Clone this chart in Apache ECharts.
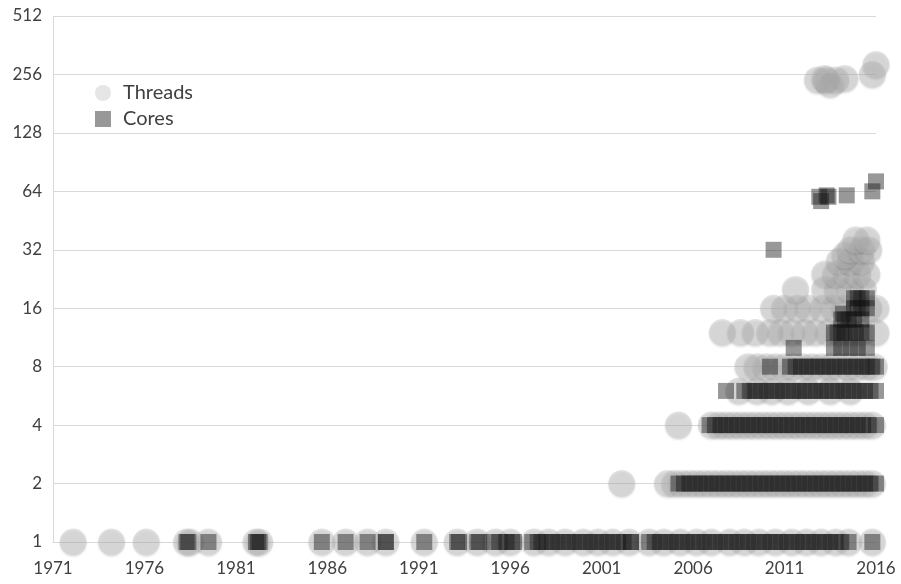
<!DOCTYPE html>
<html>
<head>
<meta charset="utf-8">
<script src="https://cdn.jsdelivr.net/npm/echarts@6/dist/echarts.min.js"></script>
<style>
html,body{margin:0;padding:0;background:#fff;}
#chart{width:901px;height:584px;}
</style>
</head>
<body>
<div id="chart"></div>
<script>
// Axis settings
const firstYear = 1971;
const xTickStep = 5;
const yTicks = [1, 2, 4, 8, 16, 32, 64, 128, 256, 512];
const seriesNames = ['Threads', 'Cores'];

// [year, threads]
const threadsData = [
  [1972.1,1],[1974.2,1],[1976.1,1],[1978.3,1],[1978.5,1],[1979.5,1],[1982.1,1],[1982.3,1],
  [1985.7,1],[1987.0,1],[1988.2,1],[1989.2,1],[1991.3,1],[1993.1,1],[1994.2,1],[1995.2,1],
  [1996.0,1],[1997.3,1],[1998.1,1],[1999.0,1],[2000.0,1],[2000.8,1],[2001.6,1],[2002.5,1],
  [2003.6,1],[2004.4,1],[2005.3,1],[2006.2,1],[2007.0,1],[2008.0,1],[2008.8,1],[2009.6,1],
  [2010.5,1],[2011.4,1],[2012.2,1],[2013.0,1],[2013.8,1],[2014.5,1],[2015.8,1],
  [2002.1,2],[2004.6,2],[2005.0,2],[2005.4,2],[2005.8,2],[2006.2,2],[2006.6,2],[2007.0,2],
  [2007.4,2],[2007.8,2],[2008.2,2],[2008.6,2],[2009.0,2],[2009.4,2],[2009.8,2],[2010.2,2],
  [2010.6,2],[2011.0,2],[2011.4,2],[2011.8,2],[2012.2,2],[2012.6,2],[2013.0,2],[2013.4,2],
  [2013.8,2],[2014.2,2],[2014.6,2],[2015.0,2],[2015.4,2],[2015.8,2],
  [2005.2,4],[2007.0,4],[2007.4,4],[2007.8,4],[2008.2,4],[2008.6,4],[2009.0,4],[2009.4,4],
  [2009.8,4],[2010.2,4],[2010.6,4],[2011.0,4],[2011.4,4],[2011.8,4],[2012.2,4],[2012.6,4],
  [2013.0,4],[2013.4,4],[2013.8,4],[2014.2,4],[2014.6,4],[2015.0,4],[2015.4,4],[2015.8,4],
  [2008.5,6],[2009.5,6],[2010.3,6],[2011.2,6],[2012.3,6],[2013.5,6],[2014.6,6],
  [2009.0,8],[2009.5,8],[2010.0,8],[2010.5,8],[2011.0,8],[2011.5,8],[2012.0,8],[2012.5,8],
  [2013.0,8],[2013.5,8],[2014.0,8],[2014.5,8],[2015.0,8],[2015.5,8],[2015.9,8],
  [2007.6,12],[2008.6,12],[2009.4,12],[2010.2,12],[2010.8,12],[2011.4,12],[2012.1,12],
  [2012.7,12],[2013.4,12],[2014.0,12],[2014.6,12],[2015.2,12],[2016.0,12],
  [2010.4,16],[2011.0,16],[2011.7,16],[2012.3,16],[2013.1,16],[2013.7,16],[2014.3,16],
  [2015.0,16],[2015.6,16],[2016.0,16],
  [2011.6,20],[2013.2,20],[2013.9,20],[2014.6,20],[2015.3,20],
  [2013.2,24],[2013.8,24],[2014.4,24],[2015.0,24],[2015.5,24],
  [2014.0,28],[2014.6,28],[2015.2,28],[2014.3,30],
  [2014.6,32],[2015.2,32],[2015.6,32],[2014.9,36],[2015.5,36],
  [2012.8,240],[2013.3,240],[2013.8,240],[2013.2,244],[2014.3,244],[2013.5,228],
  [2015.8,256],[2016.0,288]
];

// [year, cores]
const coresData = [
  [1978.3,1],[1978.4,1],[1979.5,1],[1982.1,1],[1982.2,1],[1982.3,1],[1985.7,1],[1987.0,1],
  [1988.2,1],[1989.2,1],[1989.2,1],[1991.3,1],[1993.1,1],[1993.2,1],[1994.2,1],[1994.3,1],
  [1995.1,1],[1995.4,1],[1995.8,1],[1996.1,1],[1996.2,1],[1997.2,1],[1997.5,1],[1997.7,1],
  [1998.0,1],[1998.3,1],[1998.6,1],[1998.9,1],[1999.2,1],[1999.5,1],[1999.8,1],[2000.1,1],
  [2000.4,1],[2000.7,1],[2001.0,1],[2001.3,1],[2001.6,1],[2001.9,1],[2002.2,1],[2002.6,1],
  [2002.6,1],[2003.6,1],[2003.9,1],[2004.2,1],[2004.5,1],[2004.8,1],[2005.1,1],[2005.4,1],
  [2005.7,1],[2006.0,1],[2006.3,1],[2006.6,1],[2006.9,1],[2007.2,1],[2007.5,1],[2007.8,1],
  [2008.1,1],[2008.4,1],[2008.7,1],[2009.0,1],[2009.3,1],[2009.6,1],[2009.9,1],[2010.2,1],
  [2010.5,1],[2010.8,1],[2011.1,1],[2011.4,1],[2011.7,1],[2012.0,1],[2012.3,1],[2012.6,1],
  [2012.9,1],[2013.2,1],[2013.5,1],[2013.8,1],[2014.1,1],[2014.5,1],[2015.8,1],
  [2005.2,2],[2005.5,2],[2005.8,2],[2006.1,2],[2006.4,2],[2006.7,2],[2007.0,2],[2007.3,2],
  [2007.6,2],[2007.9,2],[2008.2,2],[2008.5,2],[2008.8,2],[2009.1,2],[2009.4,2],[2009.7,2],
  [2010.0,2],[2010.3,2],[2010.6,2],[2010.9,2],[2011.2,2],[2011.5,2],[2011.8,2],[2012.1,2],
  [2012.4,2],[2012.7,2],[2013.0,2],[2013.3,2],[2013.6,2],[2013.9,2],[2014.2,2],[2014.5,2],
  [2014.8,2],[2015.1,2],[2015.4,2],[2015.7,2],[2016.0,2],
  [2006.9,4],[2007.2,4],[2007.5,4],[2007.8,4],[2008.1,4],[2008.4,4],[2008.7,4],[2009.0,4],
  [2009.3,4],[2009.6,4],[2009.9,4],[2010.2,4],[2010.5,4],[2010.8,4],[2011.1,4],[2011.4,4],
  [2011.7,4],[2012.0,4],[2012.3,4],[2012.6,4],[2012.9,4],[2013.2,4],[2013.5,4],[2013.8,4],
  [2014.1,4],[2014.4,4],[2014.7,4],[2015.0,4],[2015.3,4],[2015.6,4],[2016.0,4],
  [2007.8,6],[2008.8,6],[2009.1,6],[2009.4,6],[2009.7,6],[2010.0,6],[2010.3,6],[2010.6,6],
  [2010.9,6],[2011.2,6],[2011.5,6],[2011.8,6],[2012.1,6],[2012.4,6],[2012.7,6],[2013.0,6],
  [2013.3,6],[2013.6,6],[2013.9,6],[2014.2,6],[2014.5,6],[2014.8,6],[2015.1,6],[2015.4,6],
  [2015.7,6],[2016.0,6],
  [2010.2,8],[2011.3,8],[2011.6,8],[2011.9,8],[2012.2,8],[2012.5,8],[2012.8,8],[2013.1,8],
  [2013.4,8],[2013.7,8],[2014.0,8],[2014.3,8],[2014.6,8],[2014.9,8],[2015.2,8],[2015.5,8],
  [2015.8,8],[2016.0,8],
  [2011.5,10],[2013.7,10],[2014.1,10],[2014.6,10],[2015.0,10],[2015.5,10],
  [2013.7,12],[2013.9,12],[2014.1,12],[2014.3,12],[2014.6,12],[2014.9,12],[2015.2,12],[2015.5,12],
  [2014.1,14],[2014.3,14],[2014.5,14],[2014.8,14],[2015.2,14],[2014.2,15],
  [2014.8,16],[2015.0,16],[2015.2,16],[2015.5,16],
  [2014.8,18],[2015.0,18],[2015.2,18],[2015.5,18],
  [2010.4,32],
  [2013.0,57],[2012.9,60],[2013.4,60],[2013.3,61],[2014.4,61],
  [2015.8,64],[2016.0,72]
];

const toOffset = arr => arr.map(p => [p[0] - firstYear, p[1]]);

const chart = echarts.init(document.getElementById('chart'), null, {renderer: 'canvas'});
const font = 'Lato, "Open Sans", sans-serif';
chart.setOption({
  animation: false,
  backgroundColor: '#ffffff',
  grid: {left: 53, right: 25, top: 16, bottom: 42, containLabel: false},
  legend: {
    data: seriesNames,
    orient: 'vertical',
    left: 90,
    top: 78,
    itemWidth: 16,
    itemHeight: 16,
    itemGap: 6,
    textStyle: {fontSize: 20, color: '#404040', fontFamily: font, padding: [0, 0, 0, 7]}
  },
  xAxis: {
    type: 'value',
    min: 0,
    max: 45,
    interval: xTickStep,
    axisLine: {show: true, lineStyle: {color: '#d9d9d9'}},
    axisTick: {show: false},
    splitLine: {show: false},
    axisLabel: {
      fontSize: 17, color: '#404040', fontFamily: font, margin: 18,
      formatter: v => String(v + firstYear)
    }
  },
  yAxis: {
    type: 'log',
    logBase: 2,
    min: yTicks[0],
    max: yTicks[yTicks.length - 1],
    splitNumber: 9,
    axisLine: {show: true, lineStyle: {color: '#d9d9d9'}},
    axisTick: {show: false},
    splitLine: {show: true, lineStyle: {color: '#d9d9d9'}},
    axisLabel: {fontSize: 17, color: '#404040', fontFamily: font, margin: 11}
  },
  series: [
    {
      name: seriesNames[0],
      type: 'scatter',
      symbol: 'circle',
      symbolSize: 27,
      clip: false,
      data: toOffset(threadsData),
      itemStyle: {
        color: 'rgba(190,190,190,0.5)',
        shadowColor: 'rgba(0,0,0,0.25)', shadowBlur: 2, shadowOffsetY: 1.5
      }
    },
    {
      name: seriesNames[1],
      type: 'scatter',
      symbol: 'rect',
      symbolSize: 16,
      clip: false,
      data: toOffset(coresData),
      itemStyle: {color: 'rgba(20,20,20,0.55)'}
    }
  ]
});
</script>
</body>
</html>
